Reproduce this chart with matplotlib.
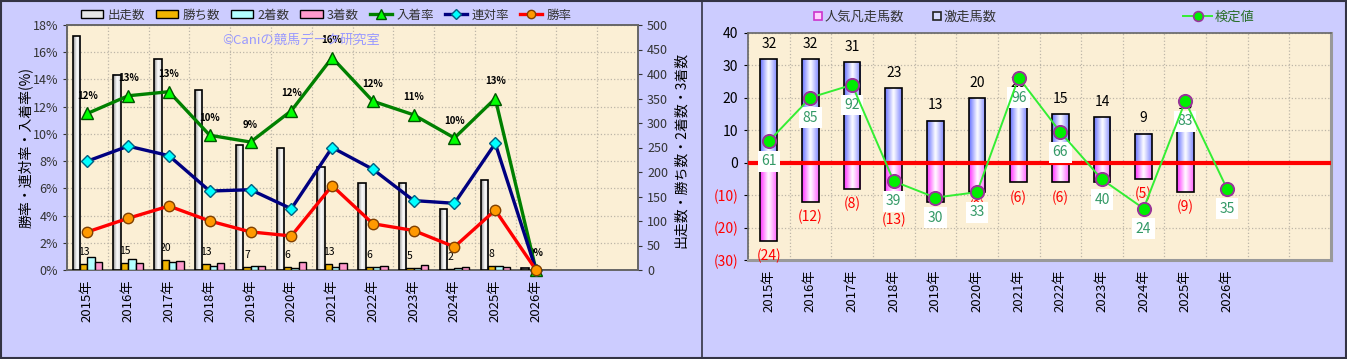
import numpy as np
import matplotlib
matplotlib.use("Agg")
import matplotlib.pyplot as plt
from matplotlib.colors import LinearSegmentedColormap
from matplotlib.lines import Line2D
from matplotlib.patches import Patch, Rectangle

plt.rcParams["font.family"] = ["Noto Sans CJK JP", "DejaVu Sans"]

W, H = 1347, 359
N_SLOTS = 14

years = ["2015年", "2016年", "2017年", "2018年", "2019年", "2020年",
         "2021年", "2022年", "2023年", "2024年", "2025年", "2026年"]

# left chart: counts (right axis) and rates in % (left axis)
starts = [477, 398, 430, 367, 255, 248, 211, 177, 177, 124, 183, 5]
wins = [13, 15, 20, 13, 7, 6, 13, 6, 5, 2, 8, 0]
seconds = [26, 22, 16, 8, 8, 5, 6, 7, 4, 4, 9, 0]
thirds = [17, 15, 18, 15, 9, 16, 14, 9, 11, 6, 6, 0]
place_rate = [11.5, 12.8, 13.1, 9.9, 9.4, 11.7, 15.6, 12.4, 11.4, 9.7, 12.6, 0]
quinella_rate = [8.0, 9.1, 8.4, 5.8, 5.9, 4.5, 9.0, 7.4, 5.1, 4.9, 9.3, 0]
win_rate = [2.8, 3.8, 4.7, 3.6, 2.8, 2.5, 6.2, 3.4, 2.9, 1.7, 4.4, 0]

# right chart
hot_runs = [32, 32, 31, 23, 13, 20, 20, 15, 14, 9, 13, 0]     # 激走馬数
flop_runs = [24, 12, 8, 13, 12, 9, 6, 6, 6, 5, 9, 0]          # 人気凡走馬数 (drawn downward)
test_value = [61, 85, 92, 39, 30, 33, 96, 66, 40, 24, 83, 35]  # 検定値

BG = "#ccccff"
PLOT_BG = "#fbefd5"
GRID = "#bdb6a8"
TXT = "#333333"


def frac_rect(x0, y0, x1, y1):
    return [x0 / W, 1 - y1 / H, (x1 - x0) / W, (y1 - y0) / H]


def gradient_bars(ax, xs, heights, width, colors, zorder):
    cmap = LinearSegmentedColormap.from_list("g", colors)
    grad = np.linspace(0, 1, 64).reshape(1, -1)
    for x, h in zip(xs, heights):
        if h == 0:
            continue
        ax.imshow(grad, cmap=cmap, aspect="auto", interpolation="bicubic",
                  extent=(x - width / 2, x + width / 2, min(0, h), max(0, h)),
                  zorder=zorder)
    ax.bar(xs, heights, width, fill=False, edgecolor="black",
           linewidth=1.2, zorder=zorder + 0.1)


def style_base(ax):
    ax.set_facecolor(PLOT_BG)
    ax.set_xlim(-0.5, N_SLOTS - 0.5)
    ax.set_xticks(range(len(years)))
    ax.set_xticklabels(years, rotation=90, fontsize=9.5, color="black")
    ax.set_xticks(np.arange(-0.5, N_SLOTS, 1), minor=True)
    ax.tick_params(axis="x", which="both", length=0, pad=7)
    ax.grid(which="minor", axis="x", color=GRID, linestyle=":", linewidth=0.9)
    ax.grid(which="major", axis="y", color=GRID, linestyle=":", linewidth=0.9)
    ax.set_axisbelow(True)
    for s in ax.spines.values():
        s.set_color("#666666")
        s.set_linewidth(1.2)


fig = plt.figure(figsize=(W / 100, H / 100), dpi=100)
fig.patch.set_facecolor(BG)

# ---------------- left chart ----------------
x = np.arange(len(years))
ax_pct = fig.add_axes(frac_rect(67, 25, 638, 270))
style_base(ax_pct)
ax_pct.set_ylim(0, 18)
ax_pct.set_yticks(np.arange(0, 19, 2))
ax_pct.set_yticklabels([f"{v}%" for v in range(0, 19, 2)])
ax_pct.tick_params(axis="y", labelsize=9, colors=TXT, length=3)

ax_cnt = ax_pct.twinx()
ax_cnt.set_ylim(0, 500)
ax_cnt.set_yticks(np.arange(0, 501, 50))
ax_cnt.tick_params(axis="y", labelsize=9, colors=TXT, length=3)
for s in ax_cnt.spines.values():
    s.set_color("#666666")
    s.set_linewidth(1.2)

bw = 0.18
gradient_bars(ax_cnt, x - 1.5 * bw, starts, bw, ["#8c8c8c", "#ffffff", "#d6d6d6"], 3)
ax_cnt.bar(x - 0.5 * bw, wins, bw, color="#f0b400", edgecolor="black", linewidth=1, zorder=3)
ax_cnt.bar(x + 0.5 * bw, seconds, bw, color="#b3ffff", edgecolor="black", linewidth=1, zorder=3)
ax_cnt.bar(x + 1.5 * bw, thirds, bw, color="#ff99cc", edgecolor="black", linewidth=1, zorder=3)
for i, v in enumerate(wins):
    if v:
        ax_cnt.annotate(str(v), (i - 0.5 * bw, v), xytext=(0, 8.5), textcoords="offset points",
                        ha="center", va="center", fontsize=7.5, color="black", zorder=1)
ax_cnt.set_xlim(-0.5, N_SLOTS - 0.5)
ax_cnt.set_ylim(0, 500)

ax_rate = ax_pct.twinx()
ax_rate.axis("off")
ax_rate.set_ylim(0, 18)
ax_rate.plot(x, place_rate, color="#008000", lw=2.4, marker="^", ms=9,
             mfc="#00ff00", mec="#005500", mew=1, clip_on=False, zorder=4)
ax_rate.plot(x, quinella_rate, color="#000080", lw=2.4, marker="D", ms=6,
             mfc="#00ffff", mec="#006080", mew=1, clip_on=False, zorder=4)
ax_rate.plot(x, win_rate, color="#ff0000", lw=2.4, marker="o", ms=7.5,
             mfc="#ff9900", mec="#804000", mew=1, clip_on=False, zorder=5)
for i, v in enumerate(place_rate):
    ax_rate.annotate(f"{v:.0f}%", (i, v), xytext=(0, 12.5), textcoords="offset points",
                     ha="center", va="center", fontsize=7, fontweight="bold", color="black")
ax_rate.set_xlim(-0.5, N_SLOTS - 0.5)

fig.text(301 / W, 1 - 40 / H, "©Caniの競馬データ研究室", color="#9999ff",
         fontsize=9.5, ha="center", va="center")
fig.text(25 / W, 1 - 147 / H, "勝率・連対率・入着率(%)", rotation=90,
         fontsize=10, ha="center", va="center", color="black")
fig.text(681 / W, 1 - 150 / H, "出走数・勝ち数・2着数・3着数", rotation=90,
         fontsize=10, ha="center", va="center", color="black")

left_handles = [
    Patch(facecolor="#e6e6e6", edgecolor="black"),
    Patch(facecolor="#f0b400", edgecolor="black"),
    Patch(facecolor="#b3ffff", edgecolor="black"),
    Patch(facecolor="#ff99cc", edgecolor="black"),
    Line2D([], [], color="#008000", lw=2.4, marker="^", ms=7, mfc="#00ff00", mec="#005500"),
    Line2D([], [], color="#000080", lw=2.4, marker="D", ms=5, mfc="#00ffff", mec="#006080"),
    Line2D([], [], color="#ff0000", lw=2.4, marker="o", ms=6, mfc="#ff9900", mec="#804000"),
]
left_labels = ["出走数", "勝ち数", "2着数", "3着数", "入着率", "連対率", "勝率"]
fig.legend(left_handles, left_labels, loc="center", bbox_to_anchor=(326 / W, 1 - 15 / H),
           ncol=7, frameon=False, fontsize=9, handlelength=1.8, handleheight=0.55,
           handletextpad=0.3, columnspacing=0.9, labelcolor=TXT)

# ---------------- right chart ----------------
ax = fig.add_axes(frac_rect(748, 33, 1331, 260))
style_base(ax)
ax.set_ylim(-30, 40)
yt = np.arange(-30, 41, 10)
ax.set_yticks(yt)
ax.set_yticklabels([str(v) if v >= 0 else f"({-v})" for v in yt], fontsize=10)
for lbl, v in zip(ax.get_yticklabels(), yt):
    lbl.set_color("black" if v >= 0 else "#ff0000")
ax.tick_params(axis="y", length=3, pad=4)
ax.spines["right"].set_color("#999999")
ax.spines["right"].set_linewidth(2.2)
ax.spines["bottom"].set_color("#999999")
ax.spines["bottom"].set_linewidth(2.2)

rw = 0.4
gradient_bars(ax, x, hot_runs, rw, ["#6670ff", "#ffffff", "#8088ff"], 3)
gradient_bars(ax, x, [-v for v in flop_runs], rw, ["#ff30ff", "#ffffff", "#ff66ff"], 3)
ax.axhline(0, color="#ff0000", lw=3, zorder=4)
for i, v in enumerate(hot_runs):
    if v:
        ax.annotate(str(v), (i, v), xytext=(0, 11), textcoords="offset points",
                    ha="center", va="center", fontsize=10, color="black")
for i, v in enumerate(flop_runs):
    if v:
        ax.annotate(f"({v})", (i, -v), xytext=(0, -11), textcoords="offset points",
                    ha="center", va="center", fontsize=10, color="#ff0000")
ax.set_xlim(-0.5, N_SLOTS - 0.5)
ax.set_ylim(-30, 40)

ax_t = ax.twinx()
ax_t.axis("off")
ax_t.set_ylim(-4.3, 120.5)
ax_t.plot(x, test_value, color="#33ee33", lw=1.4, marker="o", ms=9.5,
          mfc="#00ee00", mec="#993399", mew=1.4, zorder=5)
for i, v in enumerate(test_value):
    ax_t.annotate(str(v), (i, v), xytext=(0, -14.5), textcoords="offset points",
                  ha="center", va="center", fontsize=10, color="#339966",
                  bbox=dict(boxstyle="square,pad=0.25", fc="white", ec="none"))
ax_t.set_xlim(-0.5, N_SLOTS - 0.5)

right_handles = [
    Line2D([], [], ls="none", marker="s", ms=6, mfc="#ffd0ff", mec="#cc33cc", mew=1.2),
    Line2D([], [], ls="none", marker="s", ms=6, mfc="#d8dcff", mec="#222222", mew=1.2),
]
fig.legend(right_handles, ["人気凡走馬数", "激走馬数"], loc="center",
           bbox_to_anchor=(905 / W, 1 - 17 / H), ncol=2, frameon=False, fontsize=9.5,
           handlelength=0.6, handletextpad=0.2, columnspacing=2.2, labelcolor=TXT)
fig.legend([Line2D([], [], color="#33ee33", lw=1.4, marker="o", ms=7,
                   mfc="#00ee00", mec="#993399", mew=1.2)], ["検定値"],
           loc="center", bbox_to_anchor=(1219 / W, 1 - 17 / H), frameon=False,
           fontsize=9.5, handlelength=2.2, handletextpad=0.2, labelcolor="#2a6e2a")

# panel frames
fig.add_artist(Rectangle((0.001, 0.002), 0.998, 0.996, transform=fig.transFigure,
                         fill=False, edgecolor="#333344", lw=1.5))
fig.add_artist(Line2D([702 / W, 702 / W], [0, 1], transform=fig.transFigure,
                      color="#333344", lw=1.2))

fig.savefig("out.png", dpi=100, facecolor=BG)
